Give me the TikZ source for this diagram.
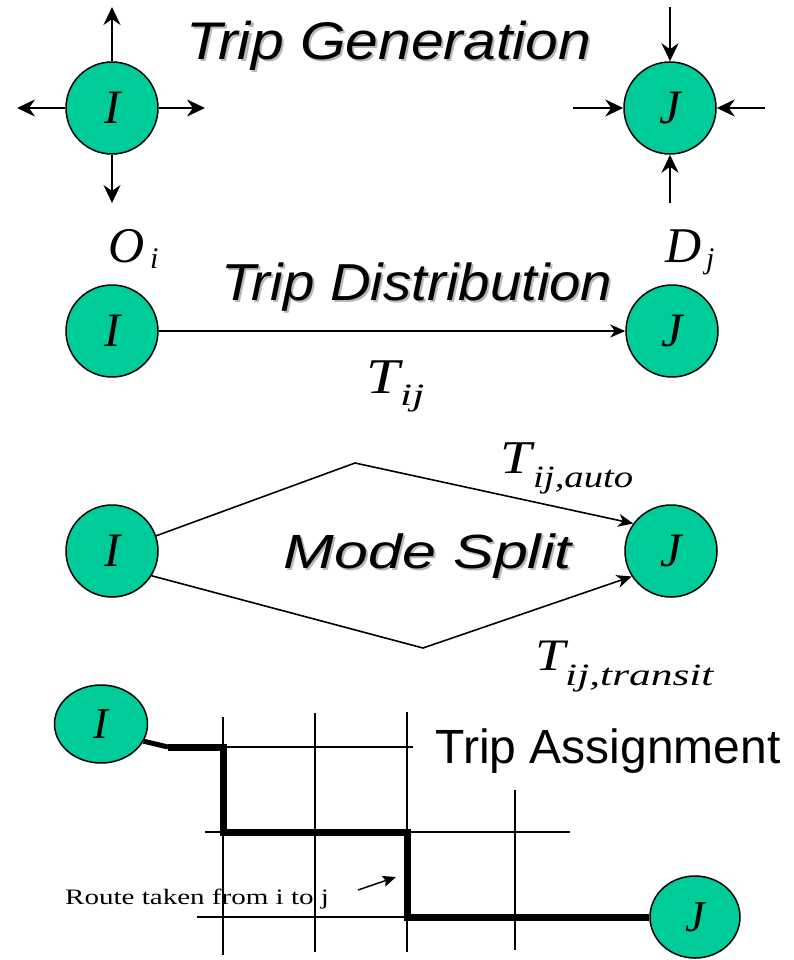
\documentclass[tikz,border=0pt]{standalone}
\usepackage{fontspec}
\setmainfont{Liberation Serif}
\newfontfamily\arialf{Liberation Sans}
\usetikzlibrary{arrows.meta,shapes.geometric}
\definecolor{nodegreen}{RGB}{0,204,153}
\newcommand{\mainlet}[2]{\fontsize{#1}{#1}\selectfont\itshape #2}
\begin{document}
\begin{tikzpicture}[x=1pt,y=-1pt,
  town/.style={circle, draw=black, line width=1.5pt, fill=nodegreen, minimum size=92pt, inner sep=0pt,
    font=\fontsize{48}{50}\selectfont\itshape},
  townell/.style={ellipse, draw=black, line width=1.5pt, fill=nodegreen, inner sep=0pt,
    font=\fontsize{44}{46}\selectfont\itshape},
  genarrow/.style={line width=2.6pt, -{Stealth[length=18pt,width=17pt,inset=6pt]}},
  flowarrow/.style={line width=1.6pt, -{Stealth[length=15pt,width=13pt,inset=4.5pt]}},
  title/.style={anchor=base, inner sep=0pt, font=\arialf\itshape},
  shade/.style={title, text=black!28},
  lbl/.style={anchor=base west, inner sep=0pt},
  gridline/.style={line width=1.3pt},
  route/.style={line width=7pt, line join=miter, line cap=butt}
]
\useasboundingbox (0,0) rectangle (794,960);

% ---------------- Trip Generation ----------------
\node[shade] (genS) at (391,62) {\fontsize{53}{60}\selectfont\scalebox{1.11}[1]{Trip Generation}};
\node[title] (gen) at (389,60) {\fontsize{53}{60}\selectfont\scalebox{1.11}[1]{Trip Generation}};

\node[town] (gI) at (112,108) {I};
\coordinate (gIu) at (112,7);
\coordinate (gIl) at (17,108);
\coordinate (gIr) at (205,108);
\coordinate (gId) at (112,203);
\draw[genarrow] (gI.north) -- (gIu);
\draw[genarrow] (gI.west) -- (gIl);
\draw[genarrow] (gI.east) -- (gIr);
\draw[genarrow] (gI.south) -- (gId);

\node[town] (gJ) at (670,108) {J};
\coordinate (gJu) at (670,7);
\coordinate (gJl) at (573,108);
\coordinate (gJr) at (765,108);
\coordinate (gJd) at (670,203);
\draw[genarrow] (gJu) -- (gJ.north);
\draw[genarrow] (gJl) -- (gJ.west);
\draw[genarrow] (gJr) -- (gJ.east);
\draw[genarrow] (gJd) -- (gJ.south);

% ---------------- Trip Distribution ----------------
\node[lbl] (O) at (108,262) {\mainlet{50}{O}};
\node[lbl] (Osub) at (150,268) {\mainlet{30}{i}};
\node[lbl] (D) at (665,262) {\mainlet{50}{D}};
\node[lbl] (Dsub) at (706,268) {\mainlet{30}{j}};
\node[shade] (distS) at (419,302) {\fontsize{52}{60}\selectfont\scalebox{1.085}[1]{Trip Distribution}};
\node[title] (dist) at (417,300) {\fontsize{52}{60}\selectfont\scalebox{1.085}[1]{Trip Distribution}};

\node[town] (dI) at (112,331) {I};
\node[town] (dJ) at (672,331) {J};
\draw[flowarrow] (dI.east) -- (dJ.west);
\node[lbl] (T1) at (366,393) {\mainlet{50}{\scalebox{1.2}[1]{T}}};
\node[lbl] (T1sub) at (400,405) {\mainlet{31}{\scalebox{1.4}[1]{ij}}};

% ---------------- Mode Split ----------------
\node[town] (mI) at (112,551) {I};
\node[town] (mJ) at (671,551) {J};
\coordinate (mUp) at (355,463);
\coordinate (mDn) at (423,648);
\draw[flowarrow] (mI.19) -- (mUp) -- (mJ.144);
\draw[flowarrow] (mI.-32) -- (mDn) -- (mJ.213);
\node[shade] (modeS) at (430,570) {\fontsize{48}{56}\selectfont\scalebox{1.27}[1]{Mode Split}};
\node[title] (mode) at (428,568) {\fontsize{48}{56}\selectfont\scalebox{1.27}[1]{Mode Split}};
\node[lbl] (T2) at (500,473) {\mainlet{47}{\scalebox{1.2}[1]{T}}};
\node[lbl] (T2sub) at (533,487) {\mainlet{31}{\scalebox{1.25}[1]{ij,auto}}};
\node[lbl] (T3) at (535,670) {\mainlet{45}{\scalebox{1.2}[1]{T}}};
\node[lbl] (T3sub) at (565,685) {\mainlet{31}{\scalebox{1.4}[1]{ij,transit}}};

% ---------------- Trip Assignment ----------------
\draw[gridline] (223,717) -- (223,955);
\draw[gridline] (315,713) -- (315,952);
\draw[gridline] (407,712) -- (407,952);
\draw[gridline] (515,790) -- (515,950);
\draw[gridline] (168,747) -- (413,747);
\draw[gridline] (205,832) -- (570,832);
\draw[gridline] (197,917) -- (407,917);

\node[townell, minimum width=93pt, minimum height=78pt] (aI) at (101,724) {I};
\node[townell, minimum width=90pt, minimum height=82pt] (aJ) at (695,917) {J};

\coordinate (r1) at (168,747);
\coordinate (r2) at (223,747);
\coordinate (r3) at (223,832);
\coordinate (r4) at (407,832);
\coordinate (r5) at (407,917);
\draw[line width=5pt] (aI.-22) -- (r1);
\draw[route] (r1) -- (r2) -- (r3) -- (r4) -- (r5) -- (aJ.west);

\node[anchor=base, inner sep=0pt, font=\arialf\fontsize{48}{56}\selectfont] (assign) at (608,763) {Trip Assignment};

\node[anchor=base west, inner sep=0pt, font=\fontsize{22}{26}\selectfont] (rt) at (65,904) {\scalebox{1.32}[1]{Route taken from i to j}};
\coordinate (rtA) at (358,890);
\coordinate (rtB) at (396,877);
\draw[line width=1.5pt, -{Stealth[length=13pt,width=11pt,inset=2pt]}] (rtA) -- (rtB);
\end{tikzpicture}
\end{document}
